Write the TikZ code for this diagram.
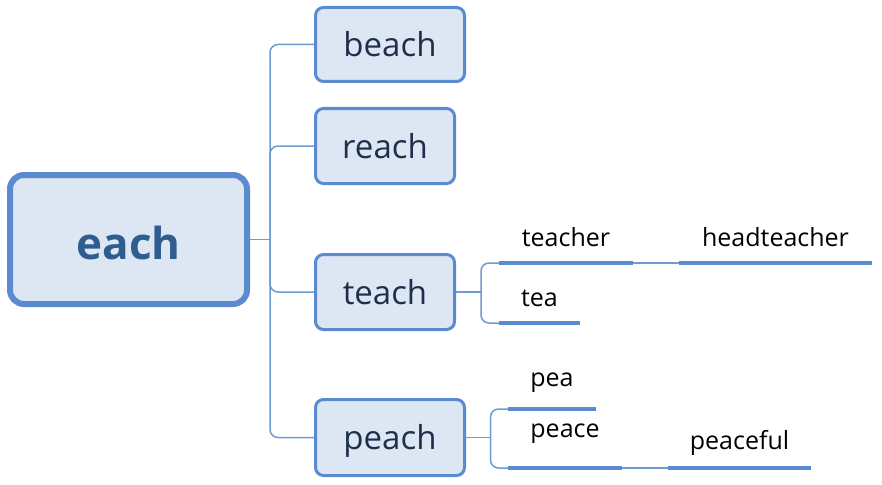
\documentclass[tikz,border=0pt]{standalone}
\usepackage{fontspec}
\setmainfont{Open Sans}
\usetikzlibrary{positioning}
\definecolor{boxfill}{HTML}{DDE6F3}
\definecolor{boxline}{HTML}{5A8AD0}
\definecolor{linkline}{HTML}{6E9AD2}
\definecolor{boxtext}{HTML}{1F2F4B}
\definecolor{roottext}{HTML}{2F5D90}
\begin{document}
\begin{tikzpicture}[x=1pt,y=-1pt,
   word/.style={draw=boxline, fill=boxfill, line width=3pt, rounded corners=8pt,
      font=\fontsize{33}{33}\selectfont, text=boxtext, text height=24pt, text depth=0pt, inner sep=0pt},
   root/.style={word, line width=6pt, rounded corners=14pt,
      font=\fontsize{44}{44}\selectfont\bfseries, text=roottext, text height=39pt},
   leaf/.style={inner sep=0pt, minimum width=#1, anchor=south,
      font=\fontsize{25}{25}\selectfont, text=black},
   link/.style={draw=linkline, line width=1.5pt, rounded corners=8pt},
   under/.style={draw=boxline, line width=4pt}]
   \useasboundingbox (0,0) rectangle (882,484);
   % root and first level
   \node[root, minimum width=237pt, minimum height=129pt] (each) at (128.5,239.5) {each};
   \node[word, minimum width=149pt, minimum height=74pt] (beach) at (390,44.5) {beach};
   \node[word, minimum width=139pt, minimum height=75pt] (reach) at (385,146) {reach};
   \node[word, minimum width=139pt, minimum height=75pt] (teach) at (385,292) {teach};
   \node[word, minimum width=149pt, minimum height=76pt] (peach) at (390,437.5) {peach};
   % second level
   \node[leaf=134pt, text depth=16pt] (teacher) at (566,263) {teacher};
   \node[leaf=193pt, text depth=16pt] (headteacher) at (775.5,263) {headteacher};
   \node[leaf=81pt, text depth=16pt] (tea) at (539.5,323) {tea};
   \node[leaf=88pt, text depth=22pt] (pea) at (552,409) {pea};
   \node[leaf=114pt, text depth=30pt] (peace) at (565,468) {peace};
   \node[leaf=143pt, text depth=18pt] (peaceful) at (739.5,468) {peaceful};
   % connectors
   \draw[link] (each.east) -- ++(20,0) coordinate (ej);
   \foreach \n in {beach,reach,teach,peach}
      \draw[link] (ej) |- (\n.west);
   \draw[link] (teach.east) -- ++(25,0) coordinate (tj);
   \draw[link] (tj) |- (teacher.south west);
   \draw[link] (tj) |- (tea.south west);
   \draw[link] (peach.east) -- ++(24.5,0) coordinate (pj);
   \draw[link] (pj) |- (pea.south west);
   \draw[link] (pj) |- (peace.south west);
   \draw[link] (teacher.south east) -- (headteacher.south west);
   \draw[link] (peace.south east) -- (peaceful.south west);
   \foreach \n in {teacher,headteacher,tea,pea,peace,peaceful}
      \draw[under] (\n.south west) -- (\n.south east);
\end{tikzpicture}
\end{document}
